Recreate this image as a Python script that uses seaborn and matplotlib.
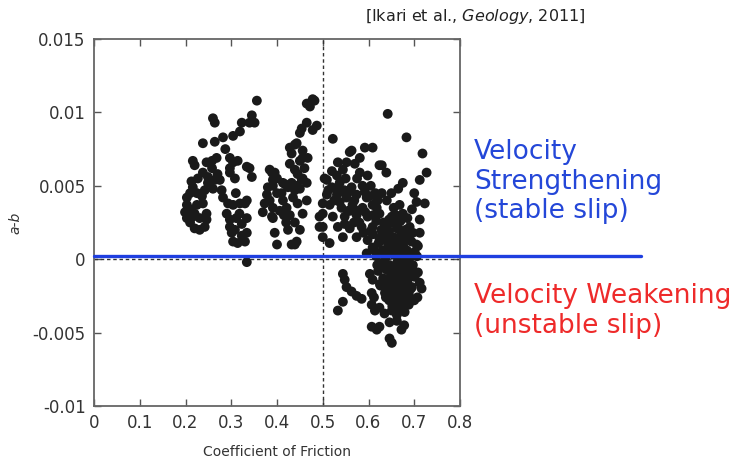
import numpy as np
import pandas as pd
import seaborn as sns
import matplotlib.pyplot as plt

# coefficient of friction (mu) and a-b, grouped by cluster
mu_low = [0.356, 0.260, 0.264, 0.345, 0.340, 0.351, 0.323, 0.319, 0.304, 0.282,
          0.264, 0.238, 0.216, 0.220, 0.246, 0.258, 0.268, 0.258, 0.238, 0.227,
          0.249, 0.264, 0.249, 0.216, 0.210, 0.203, 0.225, 0.242, 0.260, 0.203,
          0.199, 0.203, 0.210, 0.220, 0.231, 0.242, 0.246, 0.246, 0.238, 0.225,
          0.220, 0.231, 0.216, 0.297, 0.304, 0.314, 0.297, 0.297, 0.308, 0.340,
          0.334, 0.345, 0.275, 0.279, 0.282, 0.293, 0.304, 0.319, 0.330, 0.334,
          0.290, 0.297, 0.297, 0.301, 0.308, 0.304, 0.314, 0.323, 0.334, 0.334,
          0.330, 0.334, 0.210, 0.213, 0.236, 0.270, 0.287, 0.310, 0.318, 0.323,
          0.311]
ab_low = [0.0108, 0.0096, 0.0093, 0.0098, 0.0093, 0.0093, 0.0093, 0.0087, 0.0084, 0.0083,
          0.0080, 0.0079, 0.0067, 0.0064, 0.0066, 0.0067, 0.0069, 0.0062, 0.0059, 0.0055,
          0.0056, 0.0054, 0.0052, 0.0049, 0.0045, 0.0042, 0.0045, 0.0047, 0.0048, 0.0037,
          0.0032, 0.0028, 0.0025, 0.0021, 0.0020, 0.0022, 0.0027, 0.0031, 0.0038, 0.0037,
          0.0031, 0.0028, 0.0029, 0.0069, 0.0066, 0.0067, 0.0062, 0.0059, 0.0055, 0.0062,
          0.0063, 0.0056, 0.0054, 0.0047, 0.0042, 0.0038, 0.0037, 0.0038, 0.0038, 0.0040,
          0.0031, 0.0027, 0.0022, 0.0018, 0.0020, 0.0012, 0.0011, 0.0016, 0.0018, 0.0028,
          0.0012, -0.0002, 0.0034, 0.0053, 0.0043, 0.0058, 0.0075, 0.0045, 0.0031, 0.0024,
          0.0028]

mu_mid = [0.465, 0.478, 0.472, 0.482, 0.465, 0.454, 0.450, 0.487, 0.478, 0.439,
          0.456, 0.432, 0.467, 0.450, 0.428, 0.439, 0.456, 0.465, 0.413, 0.424,
          0.439, 0.450, 0.435, 0.413, 0.400, 0.391, 0.389, 0.395, 0.400, 0.384,
          0.391, 0.406, 0.421, 0.428, 0.391, 0.456, 0.439, 0.424, 0.395, 0.400,
          0.432, 0.443, 0.450, 0.384, 0.391, 0.380, 0.378, 0.373, 0.369, 0.389,
          0.439, 0.418, 0.432, 0.443, 0.454, 0.428, 0.443, 0.456, 0.445, 0.410,
          0.420, 0.445, 0.465, 0.460, 0.415]
ab_mid = [0.0106, 0.0109, 0.0104, 0.0108, 0.0093, 0.0089, 0.0086, 0.0091, 0.0088, 0.0078,
          0.0074, 0.0072, 0.0069, 0.0067, 0.0065, 0.0061, 0.0055, 0.0052, 0.0052, 0.0049,
          0.0047, 0.0048, 0.0042, 0.0040, 0.0045, 0.0050, 0.0059, 0.0059, 0.0055, 0.0040,
          0.0035, 0.0033, 0.0035, 0.0030, 0.0028, 0.0031, 0.0025, 0.0020, 0.0018, 0.0010,
          0.0010, 0.0012, 0.0020, 0.0061, 0.0054, 0.0049, 0.0044, 0.0038, 0.0032, 0.0029,
          0.0010, 0.0051, 0.0052, 0.0050, 0.0054, 0.0076, 0.0079, 0.0069, 0.0058, 0.0045,
          0.0025, 0.0038, 0.0040, 0.0062, 0.0030]

mu_high = [0.642, 0.522, 0.683, 0.718, 0.563, 0.592, 0.609, 0.533, 0.552, 0.570,
           0.581, 0.624, 0.639, 0.727, 0.712, 0.675, 0.509, 0.531, 0.544, 0.581,
           0.598, 0.520, 0.537, 0.563, 0.587, 0.509, 0.531, 0.552, 0.574, 0.596,
           0.629, 0.515, 0.541, 0.565, 0.587, 0.609, 0.668, 0.705, 0.723, 0.500,
           0.522, 0.548, 0.574, 0.598, 0.624, 0.651, 0.675, 0.712, 0.500, 0.533,
           0.559, 0.585, 0.609, 0.640, 0.664, 0.690, 0.712, 0.515, 0.544, 0.574,
           0.598, 0.624, 0.653, 0.679, 0.705, 0.596, 0.609, 0.559, 0.504, 0.500,
           0.493, 0.493, 0.500, 0.629, 0.520, 0.550, 0.575, 0.605, 0.615, 0.620,
           0.640, 0.655, 0.645, 0.660, 0.685, 0.695, 0.700, 0.610, 0.633, 0.560,
           0.525, 0.540, 0.580, 0.610, 0.650, 0.665,
           0.512, 0.528, 0.547, 0.558, 0.569, 0.592, 0.603, 0.618, 0.537, 0.556,
           0.578, 0.593, 0.617, 0.548, 0.568, 0.589, 0.604, 0.630, 0.652, 0.670,
           # below zero
           0.544, 0.548, 0.552, 0.563, 0.574, 0.585, 0.544, 0.533, 0.603, 0.609,
           0.607, 0.607, 0.614, 0.624, 0.635, 0.651, 0.662, 0.668, 0.662, 0.672,
           0.646, 0.607, 0.618, 0.624, 0.646, 0.651, 0.712, 0.707, 0.700, 0.690,
           0.716, 0.675, 0.678,
           # dense blob near mu ~ 0.66
           0.628, 0.645, 0.662, 0.681, 0.697, 0.636, 0.654, 0.671, 0.689, 0.622,
           0.641, 0.659, 0.676, 0.694, 0.708, 0.631, 0.648, 0.666, 0.684, 0.701,
           0.617, 0.637, 0.655, 0.673, 0.690, 0.706, 0.628, 0.646, 0.663, 0.680,
           0.697, 0.621, 0.639, 0.657, 0.674, 0.691, 0.708, 0.632, 0.650, 0.667,
           0.685, 0.701, 0.626, 0.643, 0.661, 0.678, 0.695, 0.636, 0.654, 0.671,
           0.688, 0.645, 0.663, 0.680, 0.696, 0.652, 0.672, 0.688,
           0.637, 0.653, 0.670, 0.687, 0.633, 0.650, 0.668, 0.686, 0.640, 0.657,
           0.675, 0.692, 0.634, 0.651, 0.669, 0.685, 0.641, 0.659, 0.677, 0.693,
           0.638, 0.655, 0.673, 0.690, 0.642, 0.660, 0.677, 0.649, 0.667, 0.684,
           0.657, 0.676, 0.613, 0.619, 0.625, 0.612, 0.660, 0.679]
ab_high = [0.0099, 0.0082, 0.0083, 0.0072, 0.0074, 0.0076, 0.0076, 0.0066, 0.0066, 0.0065,
           0.0069, 0.0064, 0.0059, 0.0059, 0.0054, 0.0052, 0.0054, 0.0057, 0.0061, 0.0059,
           0.0057, 0.0049, 0.0052, 0.0049, 0.0050, 0.0044, 0.0044, 0.0042, 0.0044, 0.0042,
           0.0045, 0.0037, 0.0035, 0.0037, 0.0035, 0.0037, 0.0037, 0.0039, 0.0038, 0.0031,
           0.0029, 0.0029, 0.0030, 0.0029, 0.0031, 0.0029, 0.0031, 0.0027, 0.0022, 0.0022,
           0.0021, 0.0022, 0.0022, 0.0021, 0.0022, 0.0022, 0.0018, 0.0011, 0.0015, 0.0015,
           0.0013, 0.0014, 0.0014, 0.0015, 0.0010, 0.0004, 0.0008, 0.0073, 0.0055, 0.0038,
           0.0029, 0.0022, 0.0015, 0.0064, 0.0060, 0.0055, 0.0055, 0.0050, 0.0045, 0.0040,
           0.0040, 0.0035, 0.0027, 0.0030, 0.0028, 0.0034, 0.0045, 0.0030, 0.0025, 0.0033,
           0.0040, 0.0046, 0.0025, 0.0017, 0.0045, 0.0048,
           0.0047, 0.0048, 0.0047, 0.0046, 0.0040, 0.0046, 0.0043, 0.0035, 0.0039, 0.0033,
           0.0033, 0.0032, 0.0026, 0.0024, 0.0025, 0.0018, 0.0019, 0.0019, 0.0025, 0.0026,
           -0.0010, -0.0014, -0.0019, -0.0022, -0.0025, -0.0027, -0.0029, -0.0035, -0.0010, -0.0014,
           -0.0023, -0.0031, -0.0035, -0.0033, -0.0037, -0.0035, -0.0038, -0.0033, -0.0042, -0.0048,
           -0.0043, -0.0046, -0.0048, -0.0046, -0.0054, -0.0057, -0.0016, -0.0026, -0.0028, -0.0028,
           -0.0020, -0.0031, -0.0045,
           0.0020, 0.0019, 0.0021, 0.0020, 0.0018, 0.0016, 0.0015, 0.0017, 0.0016, 0.0011,
           0.0012, 0.0010, 0.0011, 0.0012, 0.0009, 0.0006, 0.0005, 0.0007, 0.0006, 0.0005,
           0.0002, 0.0001, 0.0003, 0.0002, 0.0001, 0.0002, -0.0003, -0.0004, -0.0002, -0.0003,
           -0.0004, -0.0008, -0.0007, -0.0009, -0.0008, -0.0007, -0.0009, -0.0013, -0.0012, -0.0014,
           -0.0013, -0.0012, -0.0018, -0.0019, -0.0017, -0.0018, -0.0019, -0.0023, -0.0022, -0.0024,
           -0.0023, -0.0028, -0.0027, -0.0029, -0.0028, -0.0032, -0.0033, -0.0031,
           0.0013, 0.0014, 0.0013, 0.0014, 0.0003, 0.0004, 0.0004, 0.0003, -0.0006, -0.0005,
           -0.0006, -0.0005, -0.0015, -0.0016, -0.0016, -0.0015, -0.0021, -0.0020, -0.0021, -0.0020,
           -0.0026, -0.0025, -0.0025, -0.0026, 0.0008, 0.0008, 0.0008, -0.0010, -0.0011, -0.0010,
           -0.0030, -0.0030, 0.0006, -0.0004, -0.0017, -0.0026, -0.0036, -0.0036]

x_ticks = [0, 0.1, 0.2, 0.3, 0.4, 0.5, 0.6, 0.7, 0.8]
x_labels = ['0', '0.1', '0.2', '0.3', '0.4', '0.5', '0.6', '0.7', '0.8']
y_ticks = [-0.01, -0.005, 0, 0.005, 0.01, 0.015]
y_labels = ['-0.01', '-0.005', '0', '0.005', '0.01', '0.015']

df = pd.DataFrame({'mu': mu_low + mu_mid + mu_high,
                   'ab': ab_low + ab_mid + ab_high})

sns.set_style('ticks')
plt.rcParams['font.family'] = ['DejaVu Sans']

fig = plt.figure(figsize=(7.36, 4.69), dpi=100)
ax = fig.add_axes([94 / 736, 1 - 406 / 469, 366 / 736, 367 / 469])

sns.scatterplot(data=df, x='mu', y='ab', color='#1a1a1a', edgecolor='none',
                s=50, ax=ax, zorder=3)

# dotted reference lines
ax.axvline(0.5, color='#333333', lw=1, ls=(0, (2.5, 2)), zorder=2)
ax.axhline(0, color='#333333', lw=1, ls=(0, (2.5, 2)), zorder=2)
# blue divider running out to the right
ax.plot([0, 1.196], [0.00025, 0.00025], color='#1f3fe0', lw=2.4, clip_on=False, zorder=4)

ax.set_xlim(0, 0.8)
ax.set_ylim(-0.01, 0.015)
ax.set_xticks(x_ticks)
ax.set_xticklabels(x_labels)
ax.set_yticks(y_ticks)
ax.set_yticklabels(y_labels)
ax.tick_params(direction='in', top=True, right=True, length=5, width=1,
               color='#555555', labelsize=12, labelcolor='#333333', pad=6)
for sp in ax.spines.values():
    sp.set_color('#666666')
    sp.set_linewidth(1.3)

ax.set_xlabel('Coefficient of Friction', fontsize=10, color='#333333', labelpad=9)
ax.set_ylabel('a-b', fontsize=10, style='italic', color='#333333', labelpad=7)

fig.text(365 / 736, 1 - 17 / 469, '[Ikari et al., $\\it{Geology}$, 2011]',
         fontsize=11.5, color='#222222', va='center', ha='left')

fig.text(474 / 736, 1 - 139 / 469, 'Velocity\nStrengthening\n(stable slip)',
         fontsize=19, color='#2447d8', va='top', ha='left', linespacing=1.18)
fig.text(474 / 736, 1 - 283 / 469, 'Velocity Weakening\n(unstable slip)',
         fontsize=19, color='#ee2a2a', va='top', ha='left', linespacing=1.18)

fig.savefig('out.png', dpi=100)
